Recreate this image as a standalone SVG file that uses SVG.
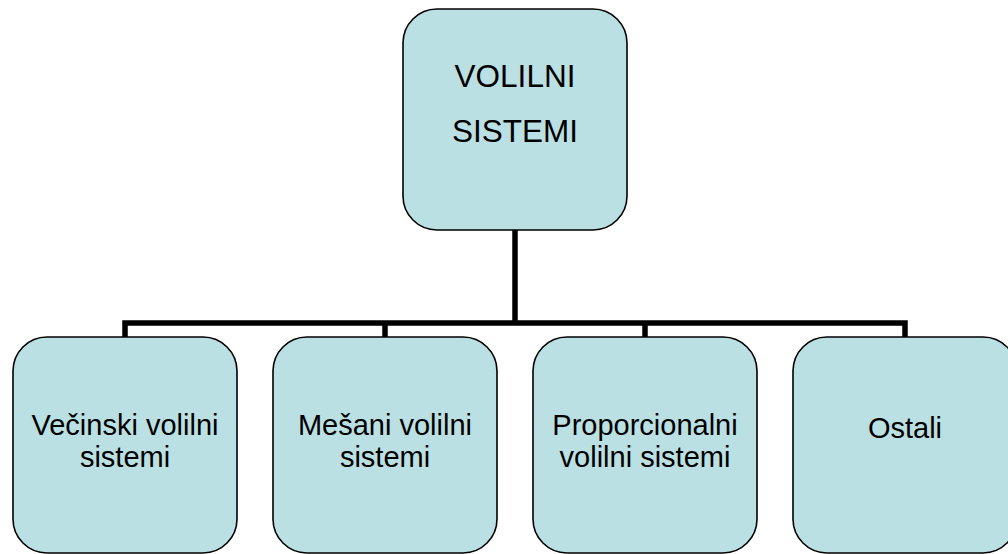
<svg xmlns="http://www.w3.org/2000/svg" width="1008" height="554" viewBox="0 0 1008 554">
<style>
.box{fill:#BBE0E3;stroke:#000;stroke-width:1.6}
.t{font-family:"Liberation Sans",Arial,sans-serif;fill:#000;text-anchor:middle}
.big{font-size:31.5px}
.sm{font-size:29px}
.conn{fill:none;stroke:#000;stroke-width:5.5;stroke-linejoin:miter}
</style>
<rect width="1008" height="554" fill="#fff"/>
<g id="connectors">
<path class="conn" d="M515,230 V323"/>
<path class="conn" d="M125,338 V323 H905 V338"/>
<path class="conn" d="M385,323 V338"/>
<path class="conn" d="M645,323 V338"/>
</g>
<g id="node-root">
<rect class="box" x="403" y="9" width="224" height="221" rx="34" ry="34"/>
<text class="t big" x="515" y="87">VOLILNI</text>
<text class="t big" x="515" y="142">SISTEMI</text>
</g>
<g id="node-vecinski">
<rect class="box" x="13" y="337" width="224" height="216" rx="34" ry="34"/>
<text class="t sm" x="125" y="435">Večinski volilni</text>
<text class="t sm" x="125" y="467">sistemi</text>
</g>
<g id="node-mesani">
<rect class="box" x="273" y="337" width="224" height="216" rx="34" ry="34"/>
<text class="t sm" x="385" y="435">Mešani volilni</text>
<text class="t sm" x="385" y="467">sistemi</text>
</g>
<g id="node-proporcionalni">
<rect class="box" x="533" y="337" width="224" height="216" rx="34" ry="34"/>
<text class="t sm" x="645" y="435">Proporcionalni</text>
<text class="t sm" x="645" y="467">volilni sistemi</text>
</g>
<g id="node-ostali">
<rect class="box" x="793" y="337" width="224" height="216" rx="34" ry="34"/>
<text class="t sm" x="905" y="438">Ostali</text>
</g>
</svg>
